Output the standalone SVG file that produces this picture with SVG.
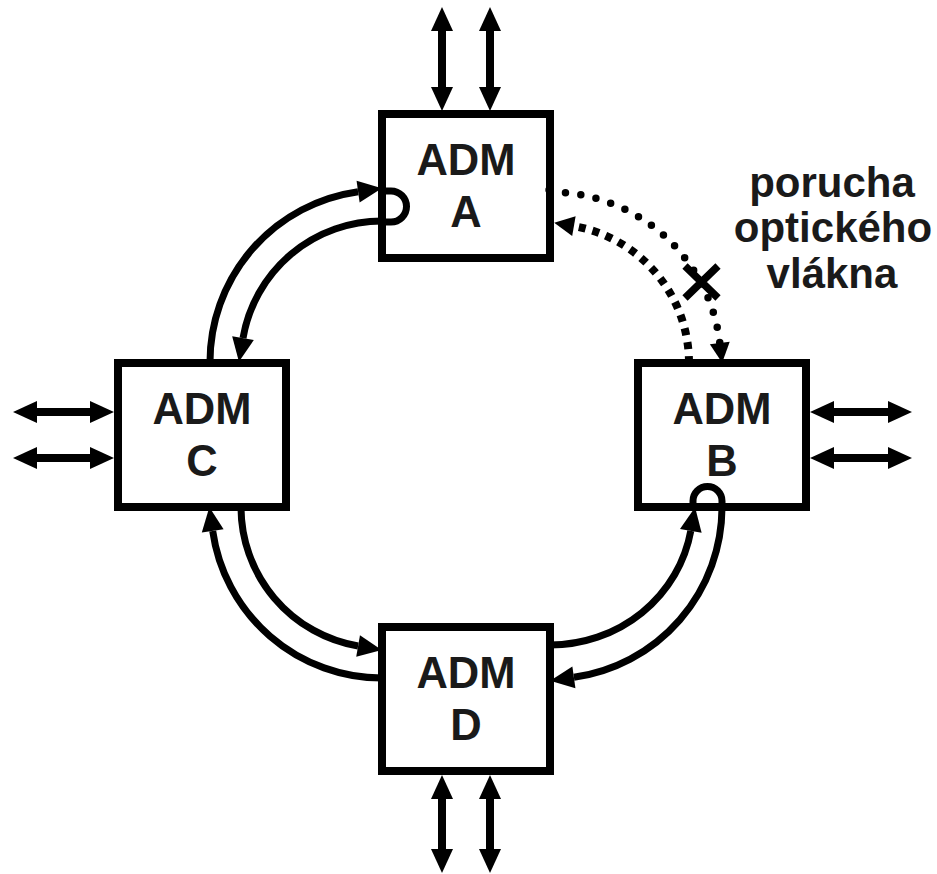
<svg xmlns="http://www.w3.org/2000/svg" width="937" height="874" viewBox="0 0 937 874">
<style>
.box{fill:#fff;stroke:#000;stroke-width:8}
.t{font-family:"Liberation Sans",Arial,sans-serif;font-weight:bold;font-size:43.5px;fill:#1a1a1a;text-anchor:middle}
.lbl{font-family:"Liberation Sans",Arial,sans-serif;font-weight:bold;font-size:42px;fill:#1a1a1a;text-anchor:middle}
.io{fill:none;stroke:#000;stroke-width:8;marker-start:url(#ah);marker-end:url(#ah)}
.arc{fill:none;stroke:#000;stroke-width:7;marker-end:url(#ah)}
.loop{fill:none;stroke:#000;stroke-width:7}
.dot{fill:none;stroke:#000;stroke-width:7.5;stroke-linecap:round;stroke-dasharray:0 15.5;marker-end:url(#sah)}
.dash{fill:none;stroke:#000;stroke-width:8;stroke-dasharray:7 7;marker-end:url(#sah)}
</style>
<defs>
<marker id="ah" markerUnits="userSpaceOnUse" markerWidth="24" markerHeight="22" refX="0" refY="11" orient="auto-start-reverse" overflow="visible">
<path d="M0,0 L24,11 L0,22 z" fill="#000"/>
</marker>
<marker id="sah" markerUnits="userSpaceOnUse" markerWidth="20" markerHeight="20" refX="0" refY="10" orient="auto" overflow="visible">
<path d="M0,0 L20,10 L0,20 z" fill="#000"/>
</marker>
</defs>
<g id="connectors">
<!-- A-C -->
<path class="arc" d="M210,363 A172,172 0 0 1 358.1,191.7"/>
<path class="arc" d="M382,221 A141,141 0 0 0 243,338.1"/>
<!-- C-D -->
<path class="arc" d="M382,678 A171,171 0 0 1 212.7,530.9"/>
<path class="arc" d="M241,507 A141,141 0 0 0 358.1,646"/>
<!-- D-B -->
<path class="arc" d="M550,645 A143,138 0 0 0 690.8,530.9"/>
<path class="arc" d="M722,507 A172,172 0 0 1 573.9,677.3"/>
<!-- A-B failed -->
<path class="dot" d="M550,192 A171,171 0 0 1 719.8,343"/>
<path class="dash" d="M689,363 A139,139 0 0 0 573.9,226.1"/>
<path d="M685,266 L718,298 M685,298 L718,266" stroke="#000" stroke-width="7.5" fill="none"/>
<!-- I/O -->
<path class="io" d="M442,31 V87"/>
<path class="io" d="M490,31 V87"/>
<path class="io" d="M442,799 V849"/>
<path class="io" d="M490,799 V849"/>
<path class="io" d="M37,412 H90"/>
<path class="io" d="M37,458 H90"/>
<path class="io" d="M834,412 H888"/>
<path class="io" d="M834,458 H888"/>
</g>
<g id="nodeA">
<rect class="box" x="382" y="114" width="168" height="144"/>
<path class="loop" d="M378,191 H391 A15.5,15.5 0 0 1 391,222 H378"/>
<circle cx="549" cy="190" r="3.7" fill="#000"/>
<text class="t" x="466" y="175">ADM</text>
<text class="t" x="466" y="227">A</text>
</g>
<g id="nodeB">
<rect class="box" x="638" y="363" width="168" height="144"/>
<path class="loop" d="M693,511 V501 A14.5,14.5 0 0 1 722,501 V511"/>
<text class="t" x="722" y="424">ADM</text>
<text class="t" x="722" y="476">B</text>
</g>
<g id="nodeC">
<rect class="box" x="118" y="363" width="168" height="144"/>
<text class="t" x="202" y="424">ADM</text>
<text class="t" x="202" y="476">C</text>
</g>
<g id="nodeD">
<rect class="box" x="382" y="627" width="168" height="144"/>
<text class="t" x="466" y="688">ADM</text>
<text class="t" x="466" y="740">D</text>
</g>
<g id="label">
<text class="lbl" x="832" y="197">porucha</text>
<text class="lbl" x="833" y="242">optického</text>
<text class="lbl" x="832" y="288">vlákna</text>
</g>
</svg>
